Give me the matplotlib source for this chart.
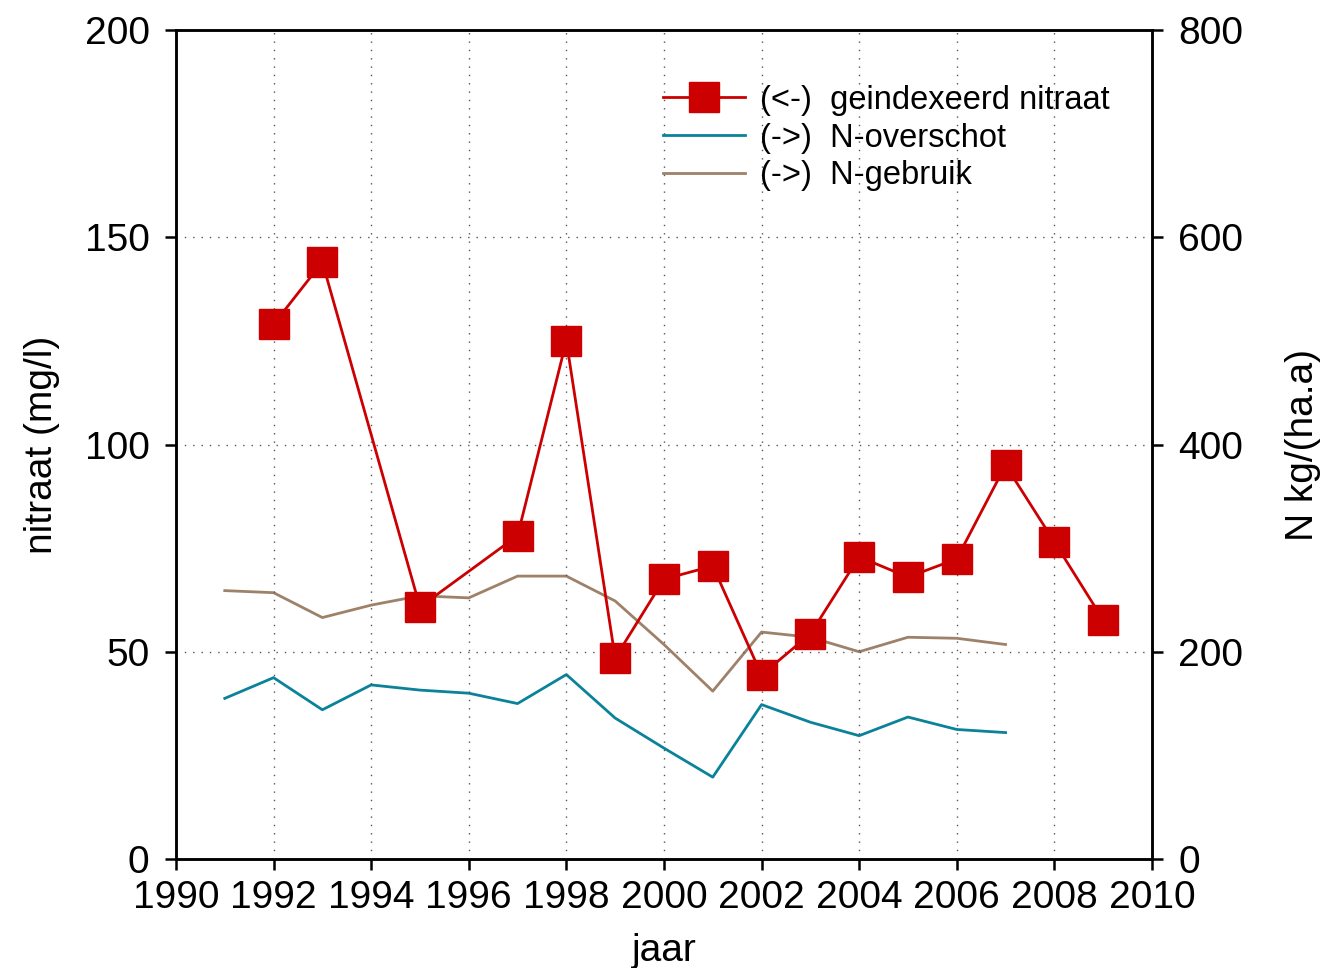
import matplotlib
matplotlib.use('Agg')
import matplotlib.pyplot as plt

plt.rcParams['font.family'] = ['Liberation Sans', 'DejaVu Sans']

# nitrate (left axis, mg/l)
nitraat_jaar = [1992, 1993, 1995, 1997, 1998, 1999, 2000, 2001, 2002,
                2003, 2004, 2005, 2006, 2007, 2008, 2009]
nitraat = [129, 144, 60.8, 78, 125, 48.5, 67.5, 70.7, 44.4,
           54.3, 72.9, 68, 72.4, 95, 76.5, 57.7]

# N surplus and N use (right axis, kg/(ha.a))
n_jaar = list(range(1991, 2008))
n_overschot = [155, 175, 144, 168, 163, 160, 150, 178, 136, 107, 79,
               149, 132, 119, 137, 125, 122]
n_gebruik = [259, 257, 233, 245, 254, 252, 273, 273, 249, 207, 162,
             219, 214, 200, 214, 213, 207]

x_ticks = list(range(1990, 2011, 2))
left_ticks = [0, 50, 100, 150, 200]
right_ticks = [0, 200, 400, 600, 800]


def style_axis(ax):
    for s in ax.spines.values():
        s.set_linewidth(1.8)
    ax.tick_params(direction='out', length=8, width=1.8, labelsize=28)
    ax.tick_params(axis='y', pad=11)
    ax.tick_params(axis='x', pad=7)


fig = plt.figure(figsize=(13.25, 9.68), dpi=100)
ax = fig.add_subplot(111)
fig.subplots_adjust(left=0.1328, right=0.8694, top=0.969, bottom=0.1126)
ax2 = ax.twinx()

# Right axis series
l2, = ax2.plot(n_jaar, n_overschot, color='#0A829A', lw=2,
               label='(->)  N-overschot')
l3, = ax2.plot(n_jaar, n_gebruik, color='#9E8169', lw=2,
               label='(->)  N-gebruik')

# Left axis series on top
l1, = ax.plot(nitraat_jaar, nitraat, color='#CC0000', lw=2, marker='s',
              markersize=21, label='(<-)  geindexeerd nitraat')
ax.set_zorder(ax2.get_zorder() + 1)
ax.patch.set_visible(False)

ax.set_xlim(1990, 2010)
ax.set_ylim(0, 200)
ax2.set_ylim(0, 800)
ax.set_xticks(x_ticks)
ax.set_yticks(left_ticks)
ax2.set_yticks(right_ticks)

ax.grid(True, linestyle=(0, (1, 5)), color='#555555', lw=1)

style_axis(ax)
style_axis(ax2)

ax.set_xlabel('jaar', fontsize=28, labelpad=12)
ax.set_ylabel('nitraat (mg/l)', fontsize=28, labelpad=18)
ax2.set_ylabel('N kg/(ha.a)', fontsize=28, labelpad=30)

ax.legend(handles=[l1, l2, l3], loc='upper left',
          bbox_to_anchor=(0.499, 0.934), frameon=False, fontsize=23.5,
          handlelength=2.5, handletextpad=0.47, labelspacing=0.21,
          borderaxespad=0, borderpad=0)

fig.savefig('out.png', dpi=100)
